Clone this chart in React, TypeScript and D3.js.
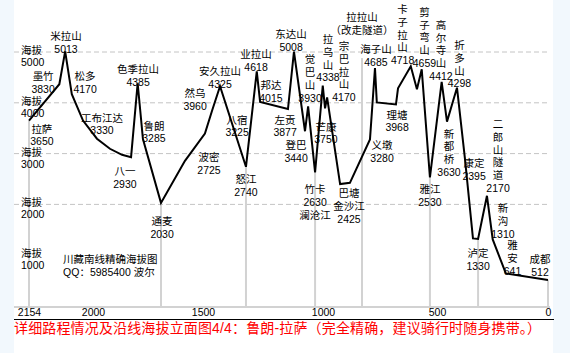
import { useRef, useEffect } from "react";
import * as d3 from "d3";

// distance (km to Chengdu) ticks along the bottom
const kmTicks = [2154, 2000, 1500, 1000, 500, 0];
const elevTicks = [1000, 2000, 3000, 4000, 5000];
const gridTicks = [2000, 3000, 4000, 5000];

// elevation profile, Lhasa -> Chengdu
const routeKm = [
  2154, 2081, 2067, 2051, 2024, 1982, 1923, 1868, 1827, 1797, 1773, 1691,
  1582, 1492, 1462, 1429, 1321, 1276, 1262, 1146, 1121, 1075, 1062, 1033,
  1001, 991, 982, 925, 882, 794, 772, 764, 680, 671, 615, 588, 567, 531,
  479, 455, 410, 374, 338, 315, 275, 249, 190, 0,
];
const routeElev = [
  3650, 4365, 5013, 4170, 3651, 3294, 3095, 2976, 2930, 4385, 3285, 2030,
  2857, 3393, 3849, 4325, 2740, 4618, 4015, 3877, 5008, 3440, 3930, 2630,
  4338, 3889, 4107, 2400, 2425, 3280, 4685, 4008, 3968, 4285, 4718, 4266,
  4659, 2530, 4412, 3630, 4298, 2897, 1330, 1320, 2170, 1310, 641, 512,
];

// place names ("|" = next line), anchored in km / elevation
const labelText = [
  "米拉山|5013", "墨竹|3830", "松多|4170", "拉萨|3650", "工布江达|3330",
  "色季拉山|4385", "鲁朗|3285", "八一|2930", "通麦|2030", "然乌|3960",
  "安久拉山|4325", "业拉山|4618", "邦达|4015", "八宿|3225", "波密|2725",
  "怒江|2740", "东达山|5008", "左贡|3877", "登巴|3440", "觉|巴|山|3930",
  "拉|乌|山|4338", "宗|巴|拉|山|4170", "拉拉山|（改走隧道）", "芒康|3750",
  "竹卡|2630|澜沧江", "巴塘|金沙江|2425", "义墩|3280", "海子山|4685",
  "理塘|3968", "卡|子|拉|山|4718", "剪|子|弯|山|4659", "高|尔|寺|山|4412",
  "折|多|山|4298", "新|都|桥|3630", "雅江|2530", "康定|2395",
  "二|郎|山|隧|道|2170", "新|沟|1310", "雅|安|641", "泸定|1330", "成都|512",
];
const labelKm = [
  2065, 2120, 2019, 2123, 1959, 1795, 1723, 1855, 1686, 1536, 1429, 1279,
  1217, 1358, 1475, 1321, 1133, 1158, 1112, 1054, 978, 908, 829, 987, 1033,
  886, 741, 768, 675, 651, 555, 482, 399, 446, 531, 333, 225, 203, 160, 315,
  36,
];
const labelElev = [
  5238, 4444, 4444, 3413, 3631, 4583, 3472, 2579, 1594, 4107, 4544, 4881,
  4266, 3591, 2857, 2421, 5278, 3591, 3095, 4781, 5178, 5039, 5615, 3452,
  2224, 2146, 3095, 4980, 3690, 5768, 5714, 5456, 5059, 3313, 2224, 2736,
  3504, 1850, 1120, 965, 846,
];

// grey drop lines at rivers / key towns
const markerKm = [2154, 1691, 1321, 1033, 829, 531, 315, 0];
const markerTop = [3650, 2030, 2740, 2630, 4881, 2530, 1320, 512];

const noteLines = ["川藏南线精确海拔图", "QQ：5985400  波尔"];
const caption =
  "详细路程情况及沿线海拔立面图4/4：鲁朗-拉萨（完全精确，建议骑行时随身携带。）";

const FONT = "'Liberation Sans', 'Noto Sans CJK SC', sans-serif";

export default function App() {
  const ref = useRef<SVGSVGElement>(null);

  useEffect(() => {
    const svg = d3.select(ref.current);
    svg.selectAll("*").remove();

    const width = 570;
    const height = 353;

    const x = d3
      .scaleLinear()
      .domain([2154, 2000, 1500, 1000, 500, 0])
      .range([29, 93, 203, 323, 437, 548]);
    const y = d3.scaleLinear().domain([0, 5000]).range([306, 52]);

    svg.append("rect").attr("width", width).attr("height", height).attr("fill", "#f2f8fd");
    svg.append("rect").attr("x", 14).attr("width", 539).attr("height", height).attr("fill", "#fff");

    // dashed elevation grid
    svg
      .append("g")
      .selectAll("line")
      .data(gridTicks)
      .join("line")
      .attr("x1", 14)
      .attr("x2", 550)
      .attr("y1", (d) => y(d))
      .attr("y2", (d) => y(d))
      .attr("stroke", "#c4c4c4")
      .attr("stroke-dasharray", "5,3");

    // drop lines
    svg
      .append("g")
      .selectAll("line")
      .data(markerKm)
      .join("line")
      .attr("x1", (d) => x(d))
      .attr("x2", (d) => x(d))
      .attr("y1", (d, i) => y(markerTop[i]))
      .attr("y2", y(0))
      .attr("stroke", "#d2d2d2")
      .attr("stroke-width", 2);

    // grey baseline
    svg
      .append("line")
      .attr("x1", 14)
      .attr("x2", 550)
      .attr("y1", y(0) + 1)
      .attr("y2", y(0) + 1)
      .attr("stroke", "#d2d2d2")
      .attr("stroke-width", 2);

    // y labels
    const yl = svg.append("g").attr("font-family", FONT).attr("font-size", 10.5).attr("fill", "#000");
    elevTicks.forEach((v) => {
      yl.append("text").attr("x", 21).attr("y", y(v) + 2).text("海拔");
      yl.append("text").attr("x", 21).attr("y", y(v) + 14).text(v);
    });

    // x axis
    const axis = svg
      .append("g")
      .attr("transform", `translate(0,${y(0)})`)
      .call(d3.axisBottom(x).tickValues(kmTicks).tickSize(0).tickPadding(3).tickFormat(d3.format("d")));
    axis.select(".domain").remove();
    axis.selectAll("text").attr("font-family", FONT).attr("font-size", 10.5).attr("fill", "#000");

    svg
      .append("line")
      .attr("x1", 14)
      .attr("x2", 554)
      .attr("y1", 319.5)
      .attr("y2", 319.5)
      .attr("stroke", "#000");

    // profile
    const pts: [number, number][] = routeKm.map((k, i) => [x(k), y(routeElev[i])]);
    svg
      .append("path")
      .attr("d", d3.line()(pts))
      .attr("fill", "none")
      .attr("stroke", "#000")
      .attr("stroke-width", 2)
      .attr("stroke-linejoin", "miter");

    // place labels
    const lg = svg
      .append("g")
      .attr("font-family", FONT)
      .attr("font-size", 10.5)
      .attr("text-anchor", "middle")
      .attr("fill", "#000");
    labelText.forEach((t, i) => {
      const tx = lg.append("text").attr("x", x(labelKm[i])).attr("y", y(labelElev[i]));
      t.split("|").forEach((line, j) => {
        tx.append("tspan")
          .attr("x", x(labelKm[i]))
          .attr("dy", j === 0 ? 0 : 12.8)
          .text(line);
      });
    });

    // note
    const note = svg
      .append("text")
      .attr("font-family", FONT)
      .attr("font-size", 10.5)
      .attr("x", x(2072))
      .attr("y", y(846));
    noteLines.forEach((line, j) => {
      note.append("tspan").attr("x", x(2072)).attr("dy", j === 0 ? 0 : 12.5).text(line);
    });

    svg
      .append("text")
      .attr("x", 14)
      .attr("y", 333)
      .attr("font-family", FONT)
      .attr("font-size", 14)
      .attr("fill", "#f00")
      .attr("textLength", 527)
      .attr("lengthAdjust", "spacing")
      .text(caption);
  }, []);

  return (
    <svg
      ref={ref}
      width={570}
      height={353}
      style={{ position: "absolute", left: 0, top: 0 }}
    />
  );
}
